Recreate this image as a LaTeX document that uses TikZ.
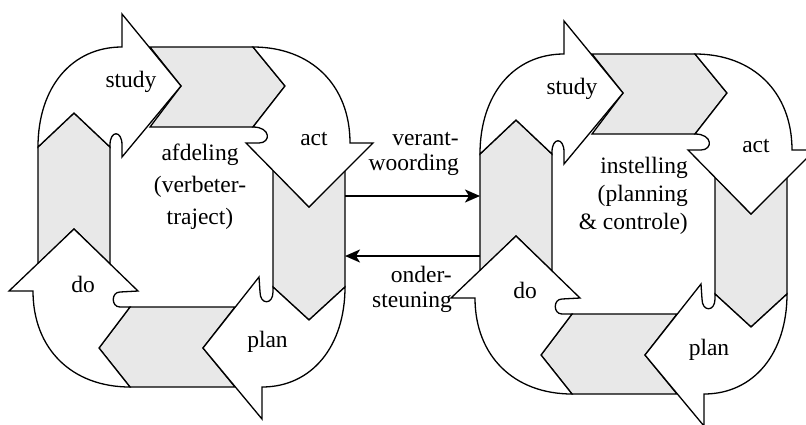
\documentclass[tikz,border=0pt]{standalone}
\usepackage{fontspec}
\setmainfont{Liberation Serif}
\newfontfamily\lblserif{Liberation Serif}
\usetikzlibrary{arrows.meta}
\definecolor{bandgray}{RGB}{232,232,232}
\tikzset{
  band/.style={draw=black, fill=bandgray, line width=1.3pt, line join=miter},
  whitearrow/.style={draw=black, fill=white, line width=1.3pt, line join=miter},
  lbl/.style={inner sep=0pt, anchor=base, font=\lblserif\fontsize{23.5}{32}\selectfont},
  conn/.style={line width=2pt, -{Stealth[length=15pt,width=13pt,inset=4pt]}}
}
\newcommand{\pdcashapes}{%
  % gray chevron bands
  \draw[band] (150,47) -- (253,47) -- (285,86) -- (253,127) -- (150,127) -- (181,86) -- cycle;
  \draw[band] (273,170) -- (309,207) -- (345,170) -- (345,287) -- (309,320) -- (273,287) -- cycle;
  \draw[band] (235,307) -- (130,307) -- (99,348) -- (130,387) -- (235,387) -- (203,348) -- cycle;
  \draw[band] (38,264) -- (38,147) -- (74,113) -- (110,147) -- (110,264) -- (74,229) -- cycle;
  % study (top left, pointing right)
  \draw[whitearrow] (38,147) .. controls (38,87) and (72,47) .. (122,47) -- (122,14) -- (181,86)
     -- (122,157) -- (122,145) .. controls (122,130) and (110,130) .. (110,145) -- (110,147) -- (74,113) -- cycle;
  % act (top right, pointing down)
  \draw[whitearrow] (253,47) .. controls (311,47) and (350,85) .. (350,143) -- (373,143) -- (309,207)
     -- (246,143) -- (259,143) .. controls (271,143) and (271,127) .. (253,127) -- (285,86) -- cycle;
  % plan (bottom right, pointing left)
  \draw[whitearrow] (345,287) .. controls (345,346) and (312,387) .. (262,387) -- (262,419) -- (203,348)
     -- (259,277) -- (260,292) .. controls (260,305) and (273,305) .. (273,292) -- (273,287) -- (309,320) -- cycle;
  % do (bottom left, pointing up)
  \draw[whitearrow] (130,387) .. controls (72,387) and (33,349) .. (33,291) -- (9,291) -- (74,229)
     -- (138,291) -- (120,292) .. controls (111,292) and (111,307) .. (120,307) -- (130,307) -- (99,348) -- cycle;
}
\begin{document}
\begin{tikzpicture}[x=1pt,y=-1pt]
  \clip (0,0) rectangle (806,424);
  \fill[white] (0,0) rectangle (806,424);
  % left cycle
  \begin{scope}
    \pdcashapes
  \end{scope}
  % right cycle
  \begin{scope}[shift={(442,7)}]
    \pdcashapes
  \end{scope}
  % labels left
  \node[lbl] (Lstudy) at (131,87) {study};
  \node[lbl] (Lact) at (314,145) {act};
  \node[lbl] (Ldo) at (83,292) {do};
  \node[lbl] (Lplan) at (267.5,347) {plan};
  \node[lbl] (Lcenter) at (200,160.7) {\begin{tabular}[t]{@{}c@{}}afdeling\\(verbeter-\\traject)\end{tabular}};
  % labels right
  \node[lbl] (Rstudy) at (572,94) {study};
  \node[lbl] (Ract) at (756,152) {act};
  \node[lbl] (Rdo) at (525,298) {do};
  \node[lbl] (Rplan) at (709,355) {plan};
  \node[lbl, anchor=base east, font=\lblserif\fontsize{23.5}{28}\selectfont] (Rcenter) at (688,173) {\begin{tabular}[t]{@{}r@{}}instelling\\(planning\\\& controle)\end{tabular}};
  % connector labels
  \node[lbl, anchor=base east, font=\lblserif\fontsize{23.5}{25}\selectfont] (Mtop) at (459,145) {\begin{tabular}[t]{@{}r@{}}verant-\\woording\end{tabular}};
  \node[lbl, anchor=base east, font=\lblserif\fontsize{23.5}{25}\selectfont] (Mbot) at (452,282) {\begin{tabular}[t]{@{}r@{}}onder-\\steuning\end{tabular}};
  % connectors
  \coordinate (LE1) at (345,196);
  \coordinate (RW1) at (480,196);
  \coordinate (RW2) at (480,256);
  \coordinate (LE2) at (345,256);
  \draw[conn] (LE1) -- (RW1);
  \draw[conn] (RW2) -- (LE2);
\end{tikzpicture}
\end{document}
